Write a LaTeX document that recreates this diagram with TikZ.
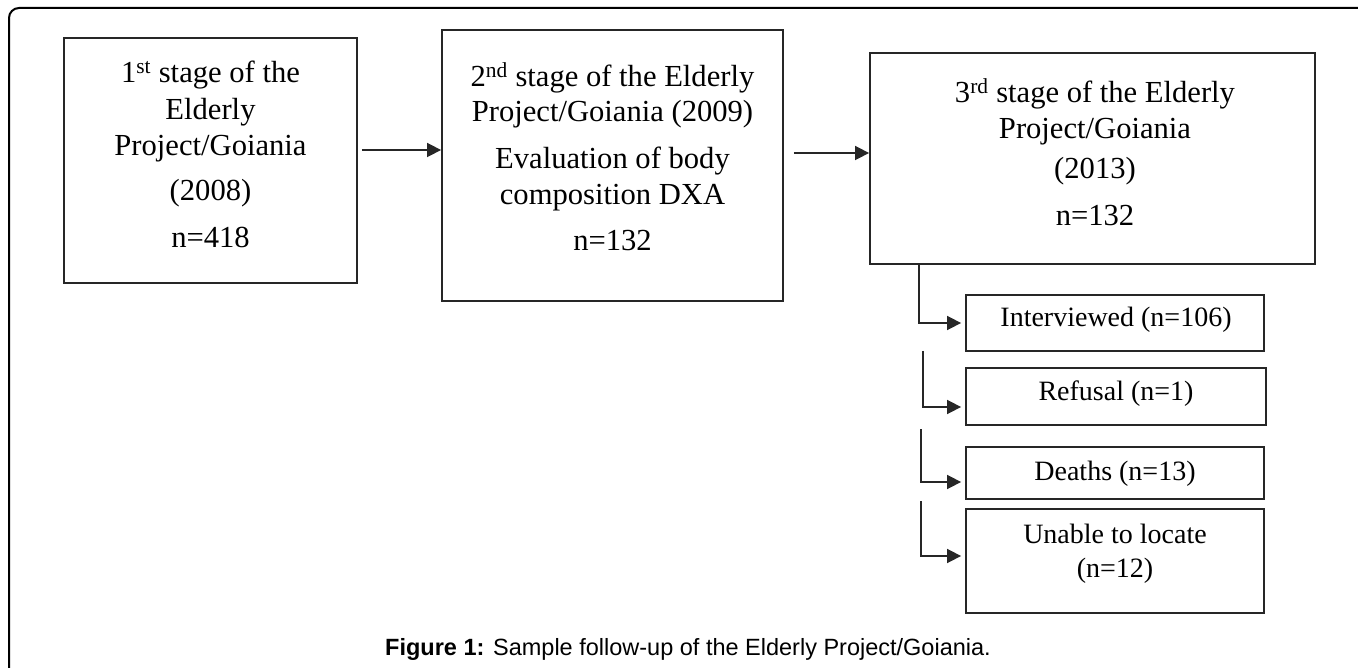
\documentclass[tikz,border=0pt]{standalone}
\usepackage{fontspec}
\setmainfont{Liberation Serif}
\newfontfamily\capfont{Liberation Sans}
\usetikzlibrary{arrows.meta,calc}
\begin{document}
\begin{tikzpicture}[x=1pt,y=-1pt,
  boxshape/.style={draw=black!85,line width=1.8pt,inner sep=0pt},
  bigtxt/.style={align=center,inner sep=0pt,font=\fontsize{30.6}{36.5}\selectfont},
  smalltxt/.style={align=center,inner sep=0pt,font=\fontsize{28}{34}\selectfont},
  arr/.style={draw=black!85,line width=1.6pt,-{Triangle[length=14pt,width=14pt]}},
  treearr/.style={arr,shorten >=4pt}]
\useasboundingbox[fill=white] (0,0) rectangle (1358,668);
% outer frame
\draw[line width=2pt,rounded corners=10pt] (9,668) -- (9,8) -- (1358,8);
% boxes
\node[boxshape,minimum width=293pt,minimum height=245pt] (b1) at (210.5,160.5) {};
\node[boxshape,minimum width=341pt,minimum height=271pt] (b2) at (612.5,165.5) {};
\node[boxshape,minimum width=445pt,minimum height=211pt] (b3) at (1092.5,158.5) {};
\node[boxshape,minimum width=298pt,minimum height=56pt] (s1) at (1115,323) {};
\node[boxshape,minimum width=300pt,minimum height=57pt] (s2) at (1116,396.5) {};
\node[boxshape,minimum width=298pt,minimum height=52pt] (s3) at (1115,473) {};
\node[boxshape,minimum width=298pt,minimum height=104pt] (s4) at (1115,561) {};
% texts
\node[bigtxt,anchor=north] (t1) at (210.5,61) {1\textsuperscript{st} stage of the\\Elderly\\Project/Goiania\\[8.5pt](2008)\\[10.5pt]n=418};
\node[bigtxt,anchor=north,font=\fontsize{30.6}{35.5}\selectfont] (t2) at (612.5,62) {2\textsuperscript{nd} stage of the Elderly\\Project/Goiania (2009)\\[11.5pt]Evaluation of body\\composition DXA\\[10.5pt]n=132};
\node[bigtxt,anchor=north,font=\fontsize{30.6}{36}\selectfont] (t3) at (1095,78) {3\textsuperscript{rd} stage of the Elderly\\Project/Goiania\\[4pt](2013)\\[11pt]n=132};
\node[smalltxt,anchor=base] (u1) at (1116,327) {Interviewed (n=106)};
\node[smalltxt,anchor=base] (u2) at (1116,400) {Refusal (n=1)};
\node[smalltxt,anchor=base] (u3) at (1115,480) {Deaths (n=13)};
\node[smalltxt,anchor=north] (u4) at (1115,523.5) {Unable to locate\\(n=12)};
% caption
\node[anchor=base west,inner sep=0pt,font=\capfont\fontsize{23.5}{28}\selectfont] (cap) at (385,655) {\textbf{Figure 1:} Sample follow-up of the Elderly Project/Goiania.};
% connectors
\draw[arr] ($(b1.east)+(4,-10.5)$) -- ($(b2.west)+(0,-15.5)$);
\draw[arr] ($(b2.east)+(10,-12.5)$) -- ($(b3.west)+(0,-5.5)$);
\coordinate (c2) at (923,351);
\coordinate (c3) at (921,429);
\coordinate (c4) at (921,501);
\draw[treearr] ([xshift=50pt]b3.south west) |- (s1.west);
\draw[treearr] (c2) |- ([yshift=-10.5pt]s2.west);
\draw[treearr] (c3) |- ([yshift=-9pt]s3.west);
\draw[treearr] (c4) |- ([yshift=5pt]s4.west);
\end{tikzpicture}
\end{document}
